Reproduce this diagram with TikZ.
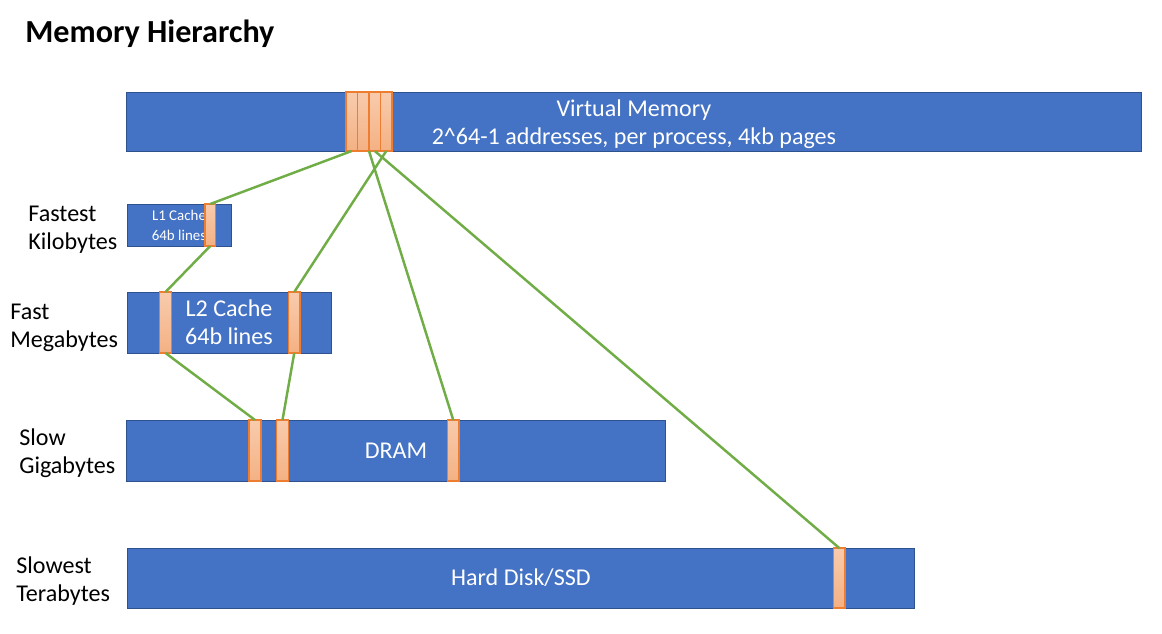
\documentclass[tikz,border=0pt]{standalone}
\usepackage{fontspec}
\setmainfont{Carlito}

\definecolor{barblue}{HTML}{4472C4}
\definecolor{baredge}{HTML}{2F528F}
\definecolor{stripeedge}{HTML}{ED7D31}
\definecolor{stripetop}{HTML}{F8CBAD}
\definecolor{stripebot}{HTML}{F4B183}
\definecolor{linkgreen}{HTML}{70AD47}

\tikzset{
  bar/.style={draw=baredge, fill=barblue, line width=0.5pt, anchor=north west,
    inner sep=0pt, outer sep=0pt, text=white, align=center,
    font=\fontsize{13.7}{15.9}\selectfont},
  bartext/.style={inner sep=0pt, text=white, align=center,
    font=\fontsize{13.7}{16.4}\selectfont},
  stripe/.style={draw=stripeedge, top color=stripetop, bottom color=stripebot,
    line width=0.8pt, anchor=north west, inner sep=0pt, outer sep=0pt,
    minimum width=0.23cm},
  link/.style={draw=linkgreen, line width=1.4pt},
  speed/.style={anchor=west, align=left, inner sep=0pt,
    font=\fontsize{13.7}{15.9}\selectfont}
}

\begin{document}
\begin{tikzpicture}[x=0.02cm, y=-0.02cm]
  \useasboundingbox (0,0) rectangle (1162,633);
  \node[anchor=west, inner sep=0pt, font=\bfseries\fontsize{18.3}{22}\selectfont] (title) at (25,34) {Memory Hierarchy};

  % bars
  \node[bar, minimum width=20.32cm, minimum height=1.18cm] (vm) at (126,92) {};
  \node[bartext] (vmtext) at ([yshift=-0.055cm]vm.center) {Virtual Memory\\2\^{}64-1 addresses, per process, 4kb pages};
  \node[bar, minimum width=2.08cm, minimum height=0.84cm, font=\fontsize{8.5}{11.3}\selectfont] (l1) at (127,204) {L1 Cache\\64b lines};
  \node[bar, minimum width=4.08cm, minimum height=1.22cm] (l2) at (127,292) {L2 Cache\\64b lines};
  \node[bar, minimum width=10.8cm, minimum height=1.22cm] (dram) at (126,420) {DRAM};
  \node[bar, minimum width=15.76cm, minimum height=1.2cm] (hdd) at (127,548) {Hard Disk/SSD};

  % speed labels
  \node[speed] (kb) at (28,230) {Fastest\\Kilobytes};
  \node[speed] (mb) at (10,328) {Fast\\Megabytes};
  \node[speed] (gb) at (19,453) {Slow\\Gigabytes};
  \node[speed] (tb) at (16,581) {Slowest\\Terabytes};

  % pages / lines
  \foreach \i/\x in {1/346,2/357.5,3/369,4/380.5}
    \node[stripe, minimum height=1.18cm] (vm\i) at (\x,92) {};
  \node[stripe, minimum width=0.21cm, minimum height=0.84cm] (l1a) at (205,204) {};
  \node[stripe, minimum width=0.24cm, minimum height=1.22cm] (l2a) at (159.5,292) {};
  \node[stripe, minimum height=1.22cm] (l2b) at (288.5,292) {};
  \node[stripe, minimum width=0.24cm, minimum height=1.22cm] (dra) at (249,420) {};
  \node[stripe, minimum width=0.24cm, minimum height=1.22cm] (drb) at (276.5,420) {};
  \node[stripe, minimum height=1.22cm] (drc) at (447.5,420) {};
  \node[stripe, minimum height=1.2cm] (hda) at (833.5,548) {};

  % mappings
  \draw[link] (vm1.south) -- (l1a.north);
  \draw[link] (vm4.south) -- (l2b.north);
  \draw[link] (vm3.south west) -- (drc.north);
  \draw[link] (vm3.south) -- (hda.north);
  \draw[link] (l1a.south) -- (l2a.north);
  \draw[link] (l2a.south) -- (dra.north);
  \draw[link] (l2b.south) -- (drb.north);
\end{tikzpicture}
\end{document}
